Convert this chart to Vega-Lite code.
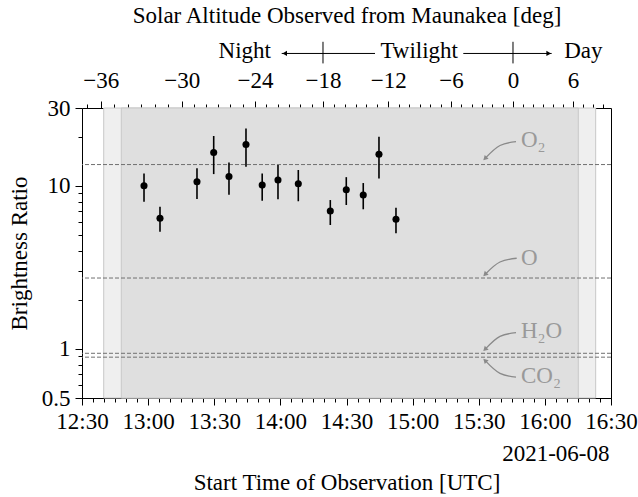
{
  "$schema": "https://vega.github.io/schema/vega-lite/v6.json",
  "width": 529,
  "height": 290,
  "autosize": "none",
  "padding": {"left": 82, "top": 108, "right": 27, "bottom": 99},
  "background": "white",
  "config": {
    "font": "Liberation Serif",
    "view": {"stroke": null},
    "axis": {
      "labelFont": "Liberation Serif", "titleFont": "Liberation Serif",
      "labelFontSize": 23, "titleFontSize": 23, "labelColor": "black", "titleColor": "black",
      "tickColor": "black", "domainColor": "black", "tickWidth": 1, "domainWidth": 1,
      "grid": false, "titleFontWeight": "normal", "zindex": 1,
      "labelFlush": false, "labelOverlap": false
    }
  },
  "datasets": {
    "light": [{"start": "2021-06-08T12:39:51Z", "end": "2021-06-08T16:23:03Z"}],
    "dark": [{"start": "2021-06-08T12:47:50Z", "end": "2021-06-08T16:15:10Z"}],
    "species": [
      {"name": "O2", "v": 13.5},
      {"name": "O", "v": 2.72},
      {"name": "H2O", "v": 0.94},
      {"name": "CO2", "v": 0.89}
    ],
    "obs": [
      {"t": "2021-06-08T12:58:08Z", "r": 10.0, "lo": 7.99, "hi": 11.9},
      {"t": "2021-06-08T13:05:23Z", "r": 6.32, "lo": 5.23, "hi": 7.45},
      {"t": "2021-06-08T13:22:10Z", "r": 10.6, "lo": 8.3, "hi": 12.8},
      {"t": "2021-06-08T13:29:45Z", "r": 16.0, "lo": 11.8, "hi": 20.2},
      {"t": "2021-06-08T13:36:41Z", "r": 11.4, "lo": 8.82, "hi": 13.9},
      {"t": "2021-06-08T13:44:24Z", "r": 17.9, "lo": 13.1, "hi": 22.5},
      {"t": "2021-06-08T13:51:45Z", "r": 10.1, "lo": 8.1, "hi": 11.9},
      {"t": "2021-06-08T13:58:55Z", "r": 10.85, "lo": 8.27, "hi": 13.4},
      {"t": "2021-06-08T14:08:08Z", "r": 10.3, "lo": 8.04, "hi": 12.5},
      {"t": "2021-06-08T14:22:39Z", "r": 7.01, "lo": 5.75, "hi": 8.18},
      {"t": "2021-06-08T14:29:54Z", "r": 9.47, "lo": 7.63, "hi": 11.3},
      {"t": "2021-06-08T14:37:36Z", "r": 8.78, "lo": 7.18, "hi": 10.4},
      {"t": "2021-06-08T14:44:44Z", "r": 15.6, "lo": 11.1, "hi": 20.0},
      {"t": "2021-06-08T14:52:27Z", "r": 6.23, "lo": 5.12, "hi": 7.34}
    ],
    "curves": [
      {"id": "O2", "t": "2021-06-08T15:46:54Z", "v": 18.68},
      {"id": "O2", "t": "2021-06-08T15:39:38Z", "v": 17.66},
      {"id": "O2", "t": "2021-06-08T15:32:50Z", "v": 14.7},
      {"id": "O", "t": "2021-06-08T15:47:13Z", "v": 3.596},
      {"id": "O", "t": "2021-06-08T15:39:38Z", "v": 3.412},
      {"id": "O", "t": "2021-06-08T15:32:50Z", "v": 2.861},
      {"id": "H2O", "t": "2021-06-08T15:46:54Z", "v": 1.259},
      {"id": "H2O", "t": "2021-06-08T15:39:38Z", "v": 1.193},
      {"id": "H2O", "t": "2021-06-08T15:32:50Z", "v": 0.993},
      {"id": "CO2", "t": "2021-06-08T15:46:54Z", "v": 0.6708},
      {"id": "CO2", "t": "2021-06-08T15:39:38Z", "v": 0.708},
      {"id": "CO2", "t": "2021-06-08T15:32:50Z", "v": 0.8503}
    ],
    "headsDown": [
      {"t": "2021-06-08T15:32:50Z", "v": 14.7},
      {"t": "2021-06-08T15:32:50Z", "v": 2.861},
      {"t": "2021-06-08T15:32:50Z", "v": 0.993}
    ],
    "headsUp": [
      {"t": "2021-06-08T15:32:50Z", "v": 0.8503}
    ],
    "labels": [
      {"t": "2021-06-08T15:49:10Z", "v": 17.41, "label": "O₂"},
      {"t": "2021-06-08T15:49:10Z", "v": 3.27, "label": "O"},
      {"t": "2021-06-08T15:49:10Z", "v": 1.163, "label": "H₂O"},
      {"t": "2021-06-08T15:49:10Z", "v": 0.6163, "label": "CO₂"}
    ],
    "phaseLines": [
      {"a": "2021-06-08T14:00:36Z", "b": "2021-06-08T14:42:56Z", "v": 64.8},
      {"a": "2021-06-08T15:22:59Z", "b": "2021-06-08T16:03:05Z", "v": 64.8}
    ],
    "phaseBars": [
      {"t": "2021-06-08T14:19:20Z", "lo": 56.3, "hi": 76.4},
      {"t": "2021-06-08T15:45:32Z", "lo": 56.3, "hi": 76.4}
    ],
    "phaseLeft": [{"t": "2021-06-08T14:01:58Z", "v": 64.8}],
    "phaseRight": [{"t": "2021-06-08T16:01:44Z", "v": 64.8}],
    "phaseText": [
      {"t": "2021-06-08T13:43:50Z", "v": 60.4, "label": "Night"},
      {"t": "2021-06-08T15:02:59Z", "v": 60.4, "label": "Twilight"},
      {"t": "2021-06-08T16:17:26Z", "v": 60.4, "label": "Day"}
    ]
  },
  "layer": [
    {
      "data": {"name": "light"},
      "mark": {"type": "rect", "fill": "#efefef", "stroke": "#c8c8c8", "strokeWidth": 1},
      "encoding": {
        "x": {
          "field": "start", "type": "temporal",
          "scale": {"type": "utc", "nice": false, "domain": [{"year": 2021, "month": 6, "date": 8, "hours": 12, "minutes": 30, "utc": true}, {"year": 2021, "month": 6, "date": 8, "hours": 16, "minutes": 30, "utc": true}]},
          "axis": {
            "orient": "top", "domain": true, "tickSize": 7, "labelPadding": 9,
            "values": {"expr": "[utc(2021,5,8,12,38,29), utc(2021,5,8,13,15,14), utc(2021,5,8,13,48,29), utc(2021,5,8,14,19,20), utc(2021,5,8,14,48,58), utc(2021,5,8,15,17,25), utc(2021,5,8,15,45,32), utc(2021,5,8,16,12,46)]"},
            "labelExpr": "['−36','−30','−24','−18','−12','−6','0','6'][indexof(['12:38:29','13:15:14','13:48:29','14:19:20','14:48:58','15:17:25','15:45:32','16:12:46'], utcFormat(datum.value, '%H:%M:%S'))]",
            "title": "Solar Altitude Observed from Maunakea [deg]", "titlePadding": 42
          }
        },
        "x2": {"field": "end"}
      }
    },
    {
      "data": {"name": "dark"},
      "mark": {"type": "rect", "fill": "#dfdfdf", "stroke": "#c8c8c8", "strokeWidth": 1},
      "encoding": {
        "x": {
          "field": "start", "type": "temporal",
          "scale": {"type": "utc", "nice": false, "domain": [{"year": 2021, "month": 6, "date": 8, "hours": 12, "minutes": 30, "utc": true}, {"year": 2021, "month": 6, "date": 8, "hours": 16, "minutes": 30, "utc": true}]},
          "axis": {
            "orient": "top", "domain": false, "tickSize": 4, "labels": false, "title": null,
            "values": {"expr": "[utc(2021,5,8,12,32,16), utc(2021,5,8,12,38,29), utc(2021,5,8,12,44,36), utc(2021,5,8,12,50,44), utc(2021,5,8,12,56,51), utc(2021,5,8,13,2,59), utc(2021,5,8,13,9,6), utc(2021,5,8,13,15,14), utc(2021,5,8,13,20,46), utc(2021,5,8,13,26,18), utc(2021,5,8,13,31,50), utc(2021,5,8,13,37,22), utc(2021,5,8,13,42,57), utc(2021,5,8,13,48,29), utc(2021,5,8,13,53,37), utc(2021,5,8,13,58,47), utc(2021,5,8,14,3,55), utc(2021,5,8,14,9,2), utc(2021,5,8,14,14,13), utc(2021,5,8,14,19,20), utc(2021,5,8,14,24,17), utc(2021,5,8,14,29,14), utc(2021,5,8,14,34,10), utc(2021,5,8,14,39,4), utc(2021,5,8,14,44,1), utc(2021,5,8,14,48,58), utc(2021,5,8,14,53,43), utc(2021,5,8,14,58,26), utc(2021,5,8,15,3,13), utc(2021,5,8,15,7,56), utc(2021,5,8,15,12,41), utc(2021,5,8,15,17,25), utc(2021,5,8,15,22,5), utc(2021,5,8,15,26,48), utc(2021,5,8,15,31,28), utc(2021,5,8,15,36,8), utc(2021,5,8,15,40,52), utc(2021,5,8,15,45,32), utc(2021,5,8,15,50,4), utc(2021,5,8,15,54,37), utc(2021,5,8,15,59,9), utc(2021,5,8,16,3,41), utc(2021,5,8,16,8,13), utc(2021,5,8,16,12,46), utc(2021,5,8,16,17,17), utc(2021,5,8,16,21,50), utc(2021,5,8,16,26,22)]"}
          }
        },
        "x2": {"field": "end"}
      }
    },
    {
      "data": {"name": "species"},
      "mark": {"type": "rule", "stroke": "#707070", "strokeWidth": 1, "strokeDash": [4, 2]},
      "encoding": {
        "y": {
          "field": "v", "type": "quantitative",
          "scale": {"type": "log", "domain": [0.5, 30], "nice": false},
          "axis": {
            "orient": "left", "domain": true, "tickSize": 7, "labelPadding": 5,
            "values": [0.5, 1, 10, 30], "labelExpr": "format(datum.value, '~g')",
            "title": "Brightness Ratio", "titlePadding": 10
          }
        }
      }
    },
    {
      "data": {"name": "obs"},
      "mark": {"type": "rule", "stroke": "black", "strokeWidth": 1.6},
      "encoding": {
        "x": {
          "field": "t", "type": "temporal",
          "scale": {"type": "utc", "nice": false, "domain": [{"year": 2021, "month": 6, "date": 8, "hours": 12, "minutes": 30, "utc": true}, {"year": 2021, "month": 6, "date": 8, "hours": 16, "minutes": 30, "utc": true}]},
          "axis": {
            "orient": "bottom", "domain": true, "tickSize": 7, "labelPadding": 5, "title": null,
            "values": {"expr": "sequence(utc(2021,5,8,12,30), utc(2021,5,8,16,31), 1800000)"},
            "labelExpr": "utcFormat(datum.value, '%H:%M')"
          }
        },
        "y": {
          "field": "lo", "type": "quantitative",
          "scale": {"type": "log", "domain": [0.5, 30], "nice": false},
          "axis": {
            "orient": "left", "domain": false, "tickSize": 4, "labels": false, "title": null,
            "values": [0.6, 0.7, 0.8, 0.9, 2, 3, 4, 5, 6, 7, 8, 9, 20]
          }
        },
        "y2": {"field": "hi"}
      }
    },
    {
      "data": {"name": "obs"},
      "mark": {"type": "point", "filled": true, "shape": "circle", "size": 50, "color": "black", "opacity": 1},
      "encoding": {
        "x": {
          "field": "t", "type": "temporal",
          "scale": {"type": "utc", "nice": false, "domain": [{"year": 2021, "month": 6, "date": 8, "hours": 12, "minutes": 30, "utc": true}, {"year": 2021, "month": 6, "date": 8, "hours": 16, "minutes": 30, "utc": true}]},
          "axis": {
            "orient": "bottom", "domain": false, "tickSize": 4, "labels": false, "title": null,
            "values": {"expr": "sequence(utc(2021,5,8,12,30), utc(2021,5,8,16,31), 300000)"}
          }
        },
        "y": {
          "field": "r", "type": "quantitative",
          "scale": {"type": "log", "domain": [0.5, 30], "nice": false},
          "axis": {"orient": "right", "domain": true, "ticks": false, "labels": false, "title": null}
        }
      }
    },
    {
      "data": {"name": "curves"},
      "mark": {"type": "line", "stroke": "#8a8a8a", "strokeWidth": 1.3, "interpolate": "monotone"},
      "encoding": {
        "x": {
          "field": "t", "type": "temporal",
          "scale": {"type": "utc", "nice": false, "domain": [{"year": 2021, "month": 6, "date": 8, "hours": 12, "minutes": 30, "utc": true}, {"year": 2021, "month": 6, "date": 8, "hours": 16, "minutes": 30, "utc": true}]},
          "axis": {
            "orient": "bottom", "domain": false, "ticks": false, "tickSize": 0, "labelPadding": 44,
            "labelAlign": "right", "labelOffset": -2,
            "values": {"expr": "[utc(2021,5,8,16,30)]"},
            "labelExpr": "'2021-06-08'",
            "title": "Start Time of Observation [UTC]", "titlePadding": 6
          }
        },
        "y": {"field": "v", "type": "quantitative", "scale": {"type": "log", "domain": [0.5, 30], "nice": false}, "axis": null},
        "detail": {"field": "id"}
      }
    },
    {
      "data": {"name": "headsDown"},
      "mark": {"type": "point", "filled": true, "shape": "triangle-up", "angle": 225, "size": 30, "color": "#8a8a8a", "opacity": 1},
      "encoding": {
        "x": {"field": "t", "type": "temporal", "scale": {"type": "utc", "nice": false, "domain": [{"year": 2021, "month": 6, "date": 8, "hours": 12, "minutes": 30, "utc": true}, {"year": 2021, "month": 6, "date": 8, "hours": 16, "minutes": 30, "utc": true}]}, "axis": null},
        "y": {"field": "v", "type": "quantitative", "scale": {"type": "log", "domain": [0.5, 30], "nice": false}, "axis": null}
      }
    },
    {
      "data": {"name": "headsUp"},
      "mark": {"type": "point", "filled": true, "shape": "triangle-up", "angle": 315, "size": 30, "color": "#8a8a8a", "opacity": 1},
      "encoding": {
        "x": {"field": "t", "type": "temporal", "scale": {"type": "utc", "nice": false, "domain": [{"year": 2021, "month": 6, "date": 8, "hours": 12, "minutes": 30, "utc": true}, {"year": 2021, "month": 6, "date": 8, "hours": 16, "minutes": 30, "utc": true}]}, "axis": null},
        "y": {"field": "v", "type": "quantitative", "scale": {"type": "log", "domain": [0.5, 30], "nice": false}, "axis": null}
      }
    },
    {
      "data": {"name": "labels"},
      "mark": {"type": "text", "align": "left", "baseline": "alphabetic", "font": "Liberation Serif", "fontSize": 23, "color": "#999999"},
      "encoding": {
        "x": {"field": "t", "type": "temporal", "scale": {"type": "utc", "nice": false, "domain": [{"year": 2021, "month": 6, "date": 8, "hours": 12, "minutes": 30, "utc": true}, {"year": 2021, "month": 6, "date": 8, "hours": 16, "minutes": 30, "utc": true}]}, "axis": null},
        "y": {"field": "v", "type": "quantitative", "scale": {"type": "log", "domain": [0.5, 30], "nice": false}, "axis": null},
        "text": {"field": "label"}
      }
    },
    {
      "data": {"name": "phaseLines"},
      "mark": {"type": "rule", "stroke": "black", "strokeWidth": 1},
      "encoding": {
        "x": {"field": "a", "type": "temporal", "scale": {"type": "utc", "nice": false, "domain": [{"year": 2021, "month": 6, "date": 8, "hours": 12, "minutes": 30, "utc": true}, {"year": 2021, "month": 6, "date": 8, "hours": 16, "minutes": 30, "utc": true}]}, "axis": null},
        "x2": {"field": "b"},
        "y": {"field": "v", "type": "quantitative", "scale": {"type": "log", "domain": [0.5, 30], "nice": false}, "axis": null}
      }
    },
    {
      "data": {"name": "phaseBars"},
      "mark": {"type": "rule", "stroke": "black", "strokeWidth": 1},
      "encoding": {
        "x": {"field": "t", "type": "temporal", "scale": {"type": "utc", "nice": false, "domain": [{"year": 2021, "month": 6, "date": 8, "hours": 12, "minutes": 30, "utc": true}, {"year": 2021, "month": 6, "date": 8, "hours": 16, "minutes": 30, "utc": true}]}, "axis": null},
        "y": {"field": "lo", "type": "quantitative", "scale": {"type": "log", "domain": [0.5, 30], "nice": false}, "axis": null},
        "y2": {"field": "hi"}
      }
    },
    {
      "data": {"name": "phaseLeft"},
      "mark": {"type": "point", "filled": true, "shape": "triangle-left", "size": 28, "color": "black", "opacity": 1},
      "encoding": {
        "x": {"field": "t", "type": "temporal", "scale": {"type": "utc", "nice": false, "domain": [{"year": 2021, "month": 6, "date": 8, "hours": 12, "minutes": 30, "utc": true}, {"year": 2021, "month": 6, "date": 8, "hours": 16, "minutes": 30, "utc": true}]}, "axis": null},
        "y": {"field": "v", "type": "quantitative", "scale": {"type": "log", "domain": [0.5, 30], "nice": false}, "axis": null}
      }
    },
    {
      "data": {"name": "phaseRight"},
      "mark": {"type": "point", "filled": true, "shape": "triangle-right", "size": 28, "color": "black", "opacity": 1},
      "encoding": {
        "x": {"field": "t", "type": "temporal", "scale": {"type": "utc", "nice": false, "domain": [{"year": 2021, "month": 6, "date": 8, "hours": 12, "minutes": 30, "utc": true}, {"year": 2021, "month": 6, "date": 8, "hours": 16, "minutes": 30, "utc": true}]}, "axis": null},
        "y": {"field": "v", "type": "quantitative", "scale": {"type": "log", "domain": [0.5, 30], "nice": false}, "axis": null}
      }
    },
    {
      "data": {"name": "phaseText"},
      "mark": {"type": "text", "align": "center", "baseline": "alphabetic", "font": "Liberation Serif", "fontSize": 23, "color": "black"},
      "encoding": {
        "x": {"field": "t", "type": "temporal", "scale": {"type": "utc", "nice": false, "domain": [{"year": 2021, "month": 6, "date": 8, "hours": 12, "minutes": 30, "utc": true}, {"year": 2021, "month": 6, "date": 8, "hours": 16, "minutes": 30, "utc": true}]}, "axis": null},
        "y": {"field": "v", "type": "quantitative", "scale": {"type": "log", "domain": [0.5, 30], "nice": false}, "axis": null},
        "text": {"field": "label"}
      }
    }
  ],
  "resolve": {"axis": {"x": "independent", "y": "independent"}}
}
